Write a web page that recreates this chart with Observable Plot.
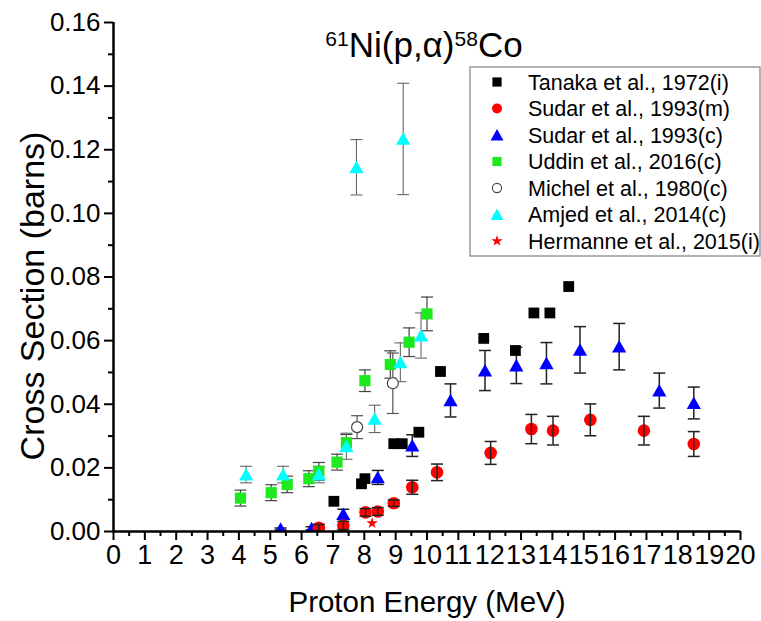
<!DOCTYPE html>
<html><head><meta charset="utf-8">
<script src="https://cdn.jsdelivr.net/npm/d3@7"></script>
<script src="https://cdn.jsdelivr.net/npm/@observablehq/plot@0.6"></script>
<style>
body{margin:0;background:#fff;}
#chart{position:relative;width:761px;height:621px;}
</style></head><body><div id="chart"></div>
<script>
// ---- data (proton energy in MeV, cross section in barns) ----
const tanakaE  = [7.03, 7.91, 8.02, 8.94, 9.21, 9.74, 10.43, 11.81, 12.82, 13.41, 13.92, 14.52];
const tanakaXS = [0.0095, 0.0150, 0.0166, 0.0276, 0.0276, 0.0312, 0.0503, 0.0607, 0.0569, 0.0687, 0.0687, 0.0770];

const sudarmE   = [6.55, 7.33, 8.04, 8.43, 8.94, 9.53, 10.32, 12.03, 13.33, 14.02, 15.21, 16.92, 18.51];
const sudarmXS  = [0.0012, 0.0019, 0.0060, 0.0063, 0.0089, 0.0139, 0.0186, 0.0247, 0.0322, 0.0317, 0.0351, 0.0317, 0.0275];
const sudarmErr = [0.0010, 0.0013, 0.0012, 0.0012, 0.0010, 0.0022, 0.0026, 0.0036, 0.0046, 0.0045, 0.0050, 0.0045, 0.0039];

const sudarcE   = [5.33, 6.32, 7.33, 8.43, 9.53, 10.75, 11.85, 12.85, 13.81, 14.88, 16.13, 17.41, 18.51];
const sudarcXS  = [0.0008, 0.0010, 0.0055, 0.0170, 0.0270, 0.0412, 0.0506, 0.0522, 0.0529, 0.0571, 0.0581, 0.0443, 0.0404];
const sudarcErr = [0.0003, 0.0005, 0.0015, 0.0022, 0.0034, 0.0052, 0.0063, 0.0057, 0.0065, 0.0073, 0.0073, 0.0055, 0.0050];

const uddinE   = [4.05, 5.03, 5.54, 6.23, 6.55, 7.13, 7.43, 8.02, 8.83, 9.43, 10.00];
const uddinXS  = [0.0105, 0.0122, 0.0148, 0.0166, 0.0189, 0.0218, 0.0279, 0.0474, 0.0525, 0.0595, 0.0684];
const uddinErr = [0.0025, 0.0025, 0.0026, 0.0025, 0.0028, 0.0025, 0.0026, 0.0034, 0.0043, 0.0045, 0.0053];

const michelE   = [7.77, 8.91];
const michelXS  = [0.0328, 0.0466];
const michelErr = [0.0036, 0.0095];

const amjedE   = [4.23, 5.41, 6.55, 7.43, 7.75, 8.33, 9.15, 9.24, 9.81];
const amjedXS  = [0.0179, 0.0179, 0.0179, 0.0268, 0.1145, 0.0354, 0.0532, 0.1234, 0.0616];
const amjedErr = [0.0026, 0.0026, 0.0026, 0.0041, 0.0087, 0.0043, 0.0061, 0.0175, 0.0071];

const hermanneE  = [8.25];
const hermanneXS = [0.0026];

const seriesNames = ["Tanaka et al., 1972(i)", "Sudar et al., 1993(m)", "Sudar et al., 1993(c)",
  "Uddin et al., 2016(c)", "Michel et al., 1980(c)", "Amjed et al., 2014(c)", "Hermanne et al., 2015(i)"];
const xTicks = d3.range(0, 21, 1);
const xMinor = d3.range(0.5, 20, 1);
const yTicks = [0, 0.02, 0.04, 0.06, 0.08, 0.10, 0.12, 0.14, 0.16];
const yMinor = [0.01, 0.03, 0.05, 0.07, 0.09, 0.11, 0.13, 0.15];

// ---- helpers ----
const rows = (E, XS, ERR) => E.map((e, i) => ({E: e, xs: XS[i], err: ERR ? ERR[i] : 0}));
const tanaka = rows(tanakaE, tanakaXS), sudarm = rows(sudarmE, sudarmXS, sudarmErr),
      sudarc = rows(sudarcE, sudarcXS, sudarcErr), uddin = rows(uddinE, uddinXS, uddinErr),
      michel = rows(michelE, michelXS, michelErr), amjed = rows(amjedE, amjedXS, amjedErr),
      hermanne = rows(hermanneE, hermanneXS);

const sq  = {draw(c, s){const r = Math.sqrt(s/Math.PI); c.rect(-r, -r, 2*r, 2*r);}};
const tri = {draw(c, s){const r = Math.sqrt(s/Math.PI); c.moveTo(0, -r); c.lineTo(r*1.08, r*0.9); c.lineTo(-r*1.08, r*0.9); c.closePath();}};
const cap = {draw(c){c.moveTo(-6, 0); c.lineTo(6, 0);}};

function errMarks(data, color, width) {
  return [
    Plot.ruleX(data, {x: "E", y1: d => d.xs - d.err, y2: d => d.xs + d.err, stroke: color, strokeWidth: width}),
    Plot.dot(data, {x: "E", y: d => d.xs + d.err, symbol: cap, r: 3, stroke: color, strokeWidth: width}),
    Plot.dot(data, {x: "E", y: d => d.xs - d.err, symbol: cap, r: 3, stroke: color, strokeWidth: width})
  ];
}

const FONT = "'Liberation Sans', Arial, Helvetica, sans-serif";

const plot = Plot.plot({
  width: 761, height: 621,
  marginLeft: 113, marginRight: 21, marginTop: 22, marginBottom: 90,
  x: {domain: [0, 20]},
  y: {domain: [0, 0.16]},
  style: {fontFamily: FONT, color: "#000", background: "#fff", overflow: "visible"},
  marks: [
    ...errMarks(uddin, "#444", 1.2),
    ...errMarks(michel, "#555", 1.2),
    ...errMarks(amjed, "#666", 1.1),
    ...errMarks(sudarc, "#222", 1.5),
    Plot.dot(hermanne, {x: "E", y: "xs", symbol: "star", r: 3.6, fill: "#ff0000", clip: true}),
    Plot.dot(tanaka, {x: "E", y: "xs", symbol: sq, r: 5.4, fill: "#000", clip: true}),
    Plot.dot(uddin, {x: "E", y: "xs", symbol: sq, r: 5.6, fill: "#1ee81e", clip: true}),
    Plot.dot(michel, {x: "E", y: "xs", r: 5.5, fill: "#fff", stroke: "#444", strokeWidth: 1.2, clip: true}),
    Plot.dot(amjed, {x: "E", y: "xs", symbol: tri, r: 6.6, fill: "#00ffff", clip: true}),
    Plot.dot(sudarc, {x: "E", y: "xs", symbol: tri, r: 6.6, fill: "#0000ff", clip: true}),
    Plot.dot(sudarm, {x: "E", y: "xs", r: 6.3, fill: "#ff0000", clip: true}),
    ...errMarks(sudarm, "#222", 1.5),
    // axes
    Plot.axisX({ticks: xMinor, tickSize: 5, strokeWidth: 2, tickFormat: () => "", label: null}),
    Plot.axisX({ticks: xTicks, tickSize: 9, strokeWidth: 2, tickPadding: 4, fontSize: 27, tickFormat: d3.format("d"), label: null}),
    Plot.axisY({ticks: yMinor, tickSize: 5, strokeWidth: 2, tickFormat: () => "", label: null}),
    Plot.axisY({ticks: yTicks, tickSize: 9, strokeWidth: 2, tickPadding: 4, fontSize: 26, tickFormat: d3.format(".2f"), label: null}),
    Plot.ruleY([0], {stroke: "#000", strokeWidth: 2.5}),
    Plot.ruleX([0], {stroke: "#000", strokeWidth: 2.5})
  ]
});

const svg = d3.select(plot);
// axis titles
svg.append("text").attr("x", 427).attr("y", 612).attr("text-anchor", "middle")
  .attr("font-family", FONT).attr("font-size", 29.5).attr("fill", "#000").text("Proton Energy (MeV)");
svg.append("text").attr("transform", "translate(44,296) rotate(-90)").attr("text-anchor", "middle")
  .attr("font-family", FONT).attr("font-size", 34).attr("fill", "#000").text("Cross Section (barns)");

// title with superscripts
const t = svg.append("text").attr("x", 424).attr("y", 57).attr("text-anchor", "middle")
  .attr("font-family", FONT).attr("font-size", 35).attr("fill", "#000");
t.append("tspan").attr("font-size", 21).attr("dy", -11).text("61");
t.append("tspan").attr("dy", 11).text("Ni(p,α)");
t.append("tspan").attr("font-size", 21).attr("dy", -11).text("58");
t.append("tspan").attr("dy", 11).text("Co");

// legend
const legendStyles = [
  {sym: sq, size: 4.6, fill: "#000"},
  {sym: d3.symbolCircle, size: 5, fill: "#ff0000"},
  {sym: tri, size: 6, fill: "#0000ff"},
  {sym: sq, size: 4.6, fill: "#1ee81e"},
  {sym: d3.symbolCircle, size: 4.6, fill: "#fff", stroke: "#444"},
  {sym: tri, size: 6, fill: "#00ffff"},
  {sym: d3.symbolStar, size: 3.6, fill: "#ff0000"}
];
const lg = svg.append("g").attr("font-family", FONT).attr("text-anchor", "start");
lg.append("rect").attr("x", 470).attr("y", 67).attr("width", 290).attr("height", 189)
  .attr("fill", "#fff").attr("stroke", "#808080").attr("stroke-width", 1.2);
seriesNames.forEach((name, i) => {
  const st = legendStyles[i];
  const cy = 82 + i * 26.5;
  lg.append("path").attr("transform", `translate(497,${cy})`)
    .attr("d", d3.symbol(st.sym, Math.PI * st.size * st.size)())
    .attr("fill", st.fill).attr("stroke", st.stroke || "none").attr("stroke-width", 1.1);
  lg.append("text").attr("x", 528).attr("y", cy).attr("dy", "0.36em").attr("text-anchor", "start")
    .attr("font-size", 21.5).attr("fill", "#000").text(name);
});

document.getElementById("chart").appendChild(plot);
</script>
</body></html>
